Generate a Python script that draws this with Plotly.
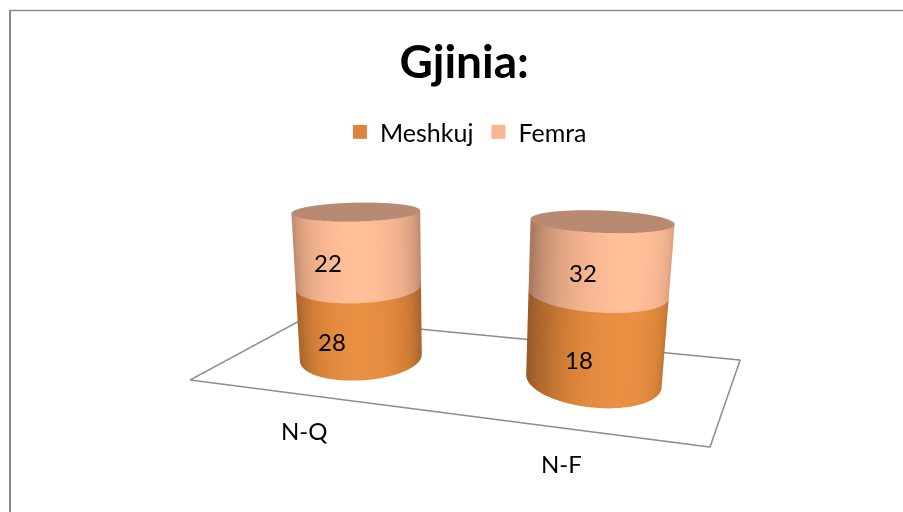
import numpy as np
import plotly.graph_objects as go

categories = ["N-Q", "N-F"]
# Printed data labels
meshkuj_labels = [28, 18]
femra_labels = [22, 32]
# Segment heights as drawn in the picture (they do not follow the printed labels)
meshkuj_heights = [25, 28]
femra_heights = [25, 22]
series_names = ["Meshkuj", "Femra"]
title_text = "Gjinia:"

# Category positions and floor outline (category axis / depth axis units)
bar_x = [0.515, 1.49]
floor_x = [-0.043, 1.861, 2.095, 0.036, -0.043]
floor_y = [0.100, 0.0526, 0.844, 0.913, 0.100]
axis_label_x = [0.578, 1.416]
axis_label_y = [-0.16, -0.155]
data_label_x = [0.502, 1.442]

RADIUS = 0.26
EYE = dict(x=0.476, y=-2.23, z=0.656)
CENTER = dict(x=-0.08, y=0.0, z=0.141)
ASPECT = dict(x=2.28, y=1.33, z=0.6)
GREY = "#8c8c8c"

side_scales = [
    [[0, "#9c5a28"], [0.45, "#b56c30"], [0.8, "#d98339"], [1, "#e88f42"]],
    [[0, "#a97a60"], [0.45, "#cf9778"], [0.8, "#f0b08c"], [1, "#ffbf99"]],
]
cap_scale = [[0, "#b98a72"], [1, "#bd8e76"]]
swatches = ["#dd843c", "#f9b592"]
flat = dict(ambient=1, diffuse=0, specular=0, roughness=1, fresnel=0)

fig = go.Figure()
theta = np.linspace(0, 2 * np.pi, 121)
view = np.arctan2(EYE["y"], EYE["x"] - CENTER["x"])

for i, cat in enumerate(categories):
    cx, cy = bar_x[i], 0.5
    base = 0
    for s, vals in enumerate([meshkuj_heights, femra_heights]):
        top = base + vals[i]
        X = np.tile(cx + RADIUS * np.cos(theta), (2, 1))
        Y = np.tile(cy + RADIUS * np.sin(theta), (2, 1))
        Z = np.vstack([np.full_like(theta, base), np.full_like(theta, top)])
        shade = np.tile(np.clip(np.cos(theta - view - 0.15), 0, 1), (2, 1))
        fig.add_trace(go.Surface(x=X, y=Y, z=Z, surfacecolor=shade, cmin=0, cmax=1,
                                 colorscale=side_scales[s], showscale=False, hoverinfo="skip",
                                 lighting=flat))
        base = top
    rr = np.array([0, 1.0])
    X = cx + np.outer(rr, RADIUS * np.cos(theta))
    Y = cy + np.outer(rr, RADIUS * np.sin(theta))
    Z = np.full_like(X, base)
    fig.add_trace(go.Surface(x=X, y=Y, z=Z, surfacecolor=np.zeros_like(X), cmin=0, cmax=1,
                             colorscale=cap_scale, showscale=False, hoverinfo="skip",
                             lighting=flat))

fig.add_trace(go.Scatter3d(x=floor_x, y=floor_y, z=[0] * len(floor_x),
                           mode="lines", line=dict(color=GREY, width=3),
                           hoverinfo="skip", showlegend=False))

for s, name in enumerate(series_names):
    fig.add_trace(go.Scatter3d(x=[None], y=[None], z=[None], mode="markers", name=name,
                               marker=dict(symbol="square", size=14, color=swatches[s])))

annotations = []
front_y = 0.24
for i, cat in enumerate(categories):
    annotations.append(dict(x=data_label_x[i], y=front_y, z=meshkuj_heights[i] / 2,
                            text=str(meshkuj_labels[i])))
    annotations.append(dict(x=data_label_x[i], y=front_y, z=meshkuj_heights[i] + femra_heights[i] / 2,
                            text=str(femra_labels[i])))
    annotations.append(dict(x=axis_label_x[i], y=axis_label_y[i], z=0, text=cat))
for a in annotations:
    a.update(showarrow=False, font=dict(family="Lato", size=24, color="black"))

fig.update_layout(
    width=903, height=512, autosize=False,
    margin=dict(l=0, r=0, t=0, b=0),
    paper_bgcolor="white",
    font=dict(family="Lato", color="black"),
    title=dict(text="<b>" + title_text + "</b>", x=0.514, xanchor="center", y=0.88, yanchor="middle",
               font=dict(family="Lato", size=46, color="black")),
    legend=dict(orientation="h", x=0.516, xanchor="center", y=0.742, yanchor="middle",
                bgcolor="rgba(0,0,0,0)",
                font=dict(family="Lato", size=25, color="black"), itemclick=False, itemdoubleclick=False),
    scene=dict(
        domain=dict(x=[0, 1], y=[0, 1]),
        xaxis=dict(visible=False, range=[-0.2, 2.2]),
        yaxis=dict(visible=False, range=[-0.2, 1.2]),
        zaxis=dict(visible=False, range=[0, 50]),
        aspectmode="manual", aspectratio=ASPECT,
        camera=dict(eye=EYE, center=CENTER, up=dict(x=0, y=0, z=1),
                    projection=dict(type="perspective")),
        annotations=annotations,
    ),
    shapes=[
        dict(type="line", xref="paper", yref="paper", x0=10 / 903, x1=10 / 903, y0=0, y1=1 - 10 / 512,
             line=dict(color=GREY, width=2)),
        dict(type="line", xref="paper", yref="paper", x0=9 / 903, x1=1, y0=1 - 10.5 / 512, y1=1 - 10.5 / 512,
             line=dict(color=GREY, width=1.5)),
    ],
)
fig.write_html("out.html", post_script="document.body.style.margin='0';",
               config=dict(displayModeBar=False))
